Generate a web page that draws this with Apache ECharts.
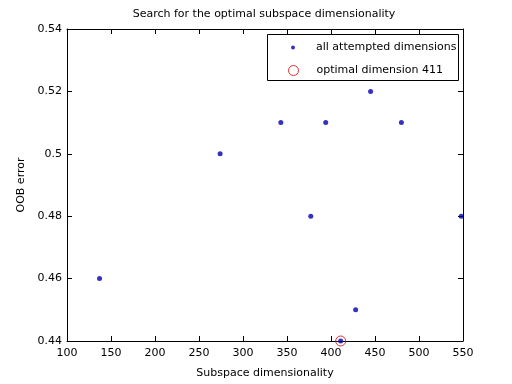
<!DOCTYPE html>
<html>
<head>
<meta charset="utf-8">
<script src="https://cdn.jsdelivr.net/npm/echarts@6/dist/echarts.min.js"></script>
<style>
  html, body { margin: 0; padding: 0; background: #fff; }
  #main { width: 512px; height: 384px; }
</style>
</head>
<body>
<div id="main"></div>
<script>
// subspace dimensions tried and the OOB error of each
var dims = [137, 274, 343, 377, 394, 411, 428, 445, 480, 548];
var oobErr = [0.46, 0.50, 0.51, 0.48, 0.51, 0.44, 0.45, 0.52, 0.51, 0.48];
var optimalDim = 411;
var optimalErr = 0.44;

var xTicks = [100, 150, 200, 250, 300, 350, 400, 450, 500, 550];
var yTicks = [0.44, 0.46, 0.48, 0.5, 0.52, 0.54];

var chartDom = document.getElementById('main');
var myChart = echarts.init(chartDom);
var option;

var font = 'DejaVu Sans';
var points = dims.map(function (d, i) { return [d, oobErr[i]]; });

function baseAxis(ticks, extra) {
    var ax = {
        type: 'value',
        min: ticks[0],
        max: ticks[ticks.length - 1],
        interval: ticks[1] - ticks[0],
        splitLine: { show: false },
        axisLine: { show: true, onZero: false, lineStyle: { color: '#000', width: 1 } },
        axisTick: { show: true, inside: true, length: 5, lineStyle: { color: '#000' } }
    };
    return Object.assign(ax, extra);
}

option = {
    backgroundColor: '#fff',
    animation: false,
    textStyle: { fontFamily: font },
    title: {
        text: 'Search for the optimal subspace dimensionality',
        left: 264,
        top: 9,
        padding: 0,
        textAlign: 'center',
        textStyle: { fontFamily: font, fontSize: 11, fontWeight: 'normal', color: '#000' }
    },
    grid: { left: 67, right: 49, top: 29, bottom: 42 },
    xAxis: [
        baseAxis(xTicks, {
            position: 'bottom',
            name: 'Subspace dimensionality',
            nameLocation: 'middle',
            nameGap: 27,
            nameTextStyle: { fontFamily: font, fontSize: 11, color: '#000' },
            axisLabel: { fontFamily: font, fontSize: 11, color: '#000', margin: 7 }
        }),
        baseAxis(xTicks, { position: 'top', axisLabel: { show: false } })
    ],
    yAxis: [
        baseAxis(yTicks, {
            position: 'left',
            name: 'OOB error',
            nameLocation: 'middle',
            nameGap: 33,
            nameTextStyle: { fontFamily: font, fontSize: 11, color: '#000' },
            axisLabel: {
                fontFamily: font, fontSize: 11, color: '#000', margin: 5,
                formatter: function (v) { return String(+v.toFixed(2)); }
            }
        }),
        baseAxis(yTicks, { position: 'right', axisLabel: { show: false } })
    ],
    graphic: [{
        type: 'rect',
        z: 3,
        shape: { x: 267.5, y: 34.5, width: 191, height: 46 },
        style: { fill: '#fff', stroke: '#000', lineWidth: 1 }
    }],
    legend: [
        {
            data: [{ name: 'all attempted dimensions', icon: 'circle' }],
            left: 291, top: 42, padding: 0,
            itemWidth: 36, itemHeight: 4,
            textStyle: { fontFamily: font, fontSize: 11, color: '#000' }
        },
        {
            data: [{ name: 'optimal dimension ' + optimalDim, icon: 'circle',
                     itemStyle: { color: 'rgba(0,0,0,0)', borderColor: '#e00000', borderWidth: 1 } }],
            left: 288, top: 65, padding: 0,
            itemWidth: 36, itemHeight: 10,
            textStyle: { fontFamily: font, fontSize: 11, color: '#000' }
        }
    ],
    series: [
        {
            name: 'optimal dimension ' + optimalDim,
            type: 'scatter',
            clip: false,
            symbol: 'circle',
            symbolSize: 10,
            itemStyle: { color: 'rgba(0,0,0,0)', borderColor: '#e00000', borderWidth: 1 },
            data: [[optimalDim, optimalErr]],
            z: 2
        },
        {
            name: 'all attempted dimensions',
            type: 'scatter',
            clip: false,
            symbol: 'circle',
            symbolSize: 5,
            itemStyle: { color: '#0000b0' },
            data: points,
            z: 3
        }
    ]
};

option && myChart.setOption(option);
</script>
</body>
</html>
